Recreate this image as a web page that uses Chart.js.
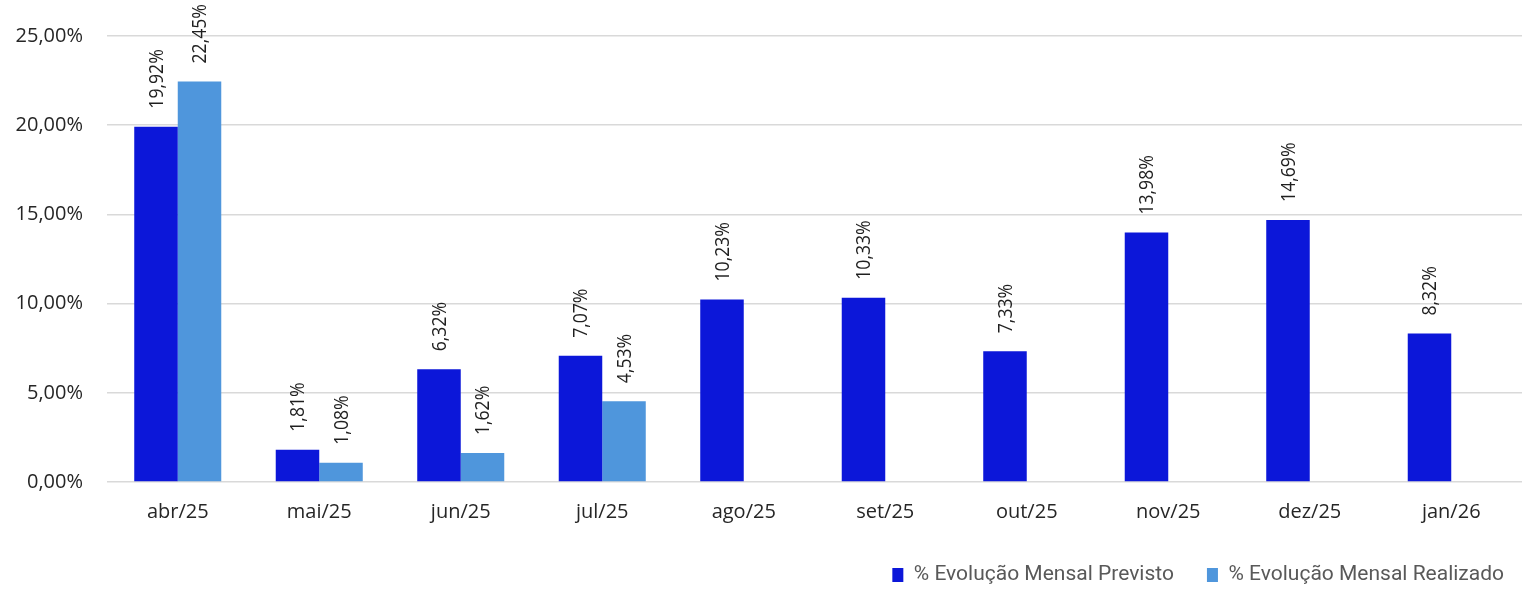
<!DOCTYPE html>
<html>
<head>
<meta charset="utf-8">
<script src="https://cdn.jsdelivr.net/npm/chart.js@4"></script>
<style>
html,body{margin:0;padding:0;background:#fff;}
#wrap{width:1533px;height:589px;}
</style>
</head>
<body>
<div id="wrap"><canvas id="c" width="1533" height="589"></canvas></div>
<script>
const categories = ["abr/25","mai/25","jun/25","jul/25","ago/25","set/25","out/25","nov/25","dez/25","jan/26"];
const previsto = [19.92, 1.81, 6.32, 7.07, 10.23, 10.33, 7.33, 13.98, 14.69, 8.32];
const realizado = [22.45, 1.08, 1.62, 4.53, null, null, null, null, null, null];
const yTicks = [0, 5, 10, 15, 20, 25];
const seriesNames = ["% Evolução Mensal Previsto", "% Evolução Mensal Realizado"];

const fmt = v => v.toFixed(2).replace('.', ',') + '%';

const labelPlugin = {
  id: 'barLabels',
  afterDatasetsDraw(chart) {
    const ctx = chart.ctx;
    chart.data.datasets.forEach((ds, i) => {
      const meta = chart.getDatasetMeta(i);
      meta.data.forEach((bar, j) => {
        const v = ds.data[j];
        if (v === null || v === undefined) return;
        ctx.save();
        ctx.translate(bar.x, bar.y - 18);
        ctx.rotate(-Math.PI / 2);
        ctx.scale(0.88, 1);
        ctx.font = '20px "Open Sans"';
        ctx.fillStyle = '#1f1f1f';
        ctx.textAlign = 'left';
        ctx.textBaseline = 'middle';
        ctx.fillText(fmt(v), 0, 1);
        ctx.restore();
      });
    });
  }
};

const legendPos = {
  id: 'legendPos',
  afterLayout(chart) {
    const L = chart.legend;
    if (!L) return;
    const h = L.bottom - L.top;
    const w = L.right - L.left;
    L.right = 1537;
    L.left = L.right - w;
    L.top = 575 - 33 - 10.5;
    L.bottom = L.top + h;
  }
};

new Chart(document.getElementById('c'), {
  type: 'bar',
  data: {
    labels: categories,
    datasets: [
      { label: seriesNames[0], data: previsto, backgroundColor: '#0c17d9', borderWidth: 0 },
      { label: seriesNames[1], data: realizado, backgroundColor: '#4f96dc', borderWidth: 0 }
    ]
  },
  options: {
    responsive: false,
    animation: false,
    layout: { padding: { top: 35, right: 11, left: 0, bottom: 0 } },
    datasets: { bar: { categoryPercentage: 0.615, barPercentage: 1 } },
    plugins: {
      legend: {
        position: 'bottom',
        align: 'end',
        labels: {
          font: { family: 'Roboto', size: 21 },
          color: '#595959',
          boxWidth: 11,
          boxHeight: 14,
          padding: 33
        }
      },
      tooltip: { enabled: false }
    },
    scales: {
      x: {
        grid: { display: false },
        border: { display: false },
        ticks: { font: { family: '"Open Sans"', size: 20 }, color: '#262626', padding: 10, maxRotation: 0 },
        afterFit(s) { s.height = 43; }
      },
      y: {
        min: 0, max: 25,
        afterBuildTicks(s) { s.ticks = yTicks.map(v => ({ value: v })); },
        grid: { color: '#d9d9d9', lineWidth: 1.5, drawTicks: false },
        border: { display: false },
        ticks: {
          font: { family: '"Open Sans"', size: 20 },
          color: '#262626',
          padding: 24,
          callback: v => fmt(v)
        },
        afterFit(s) { s.width = 107; }
      }
    }
  },
  plugins: [labelPlugin, legendPos]
});
</script>
</body>
</html>
